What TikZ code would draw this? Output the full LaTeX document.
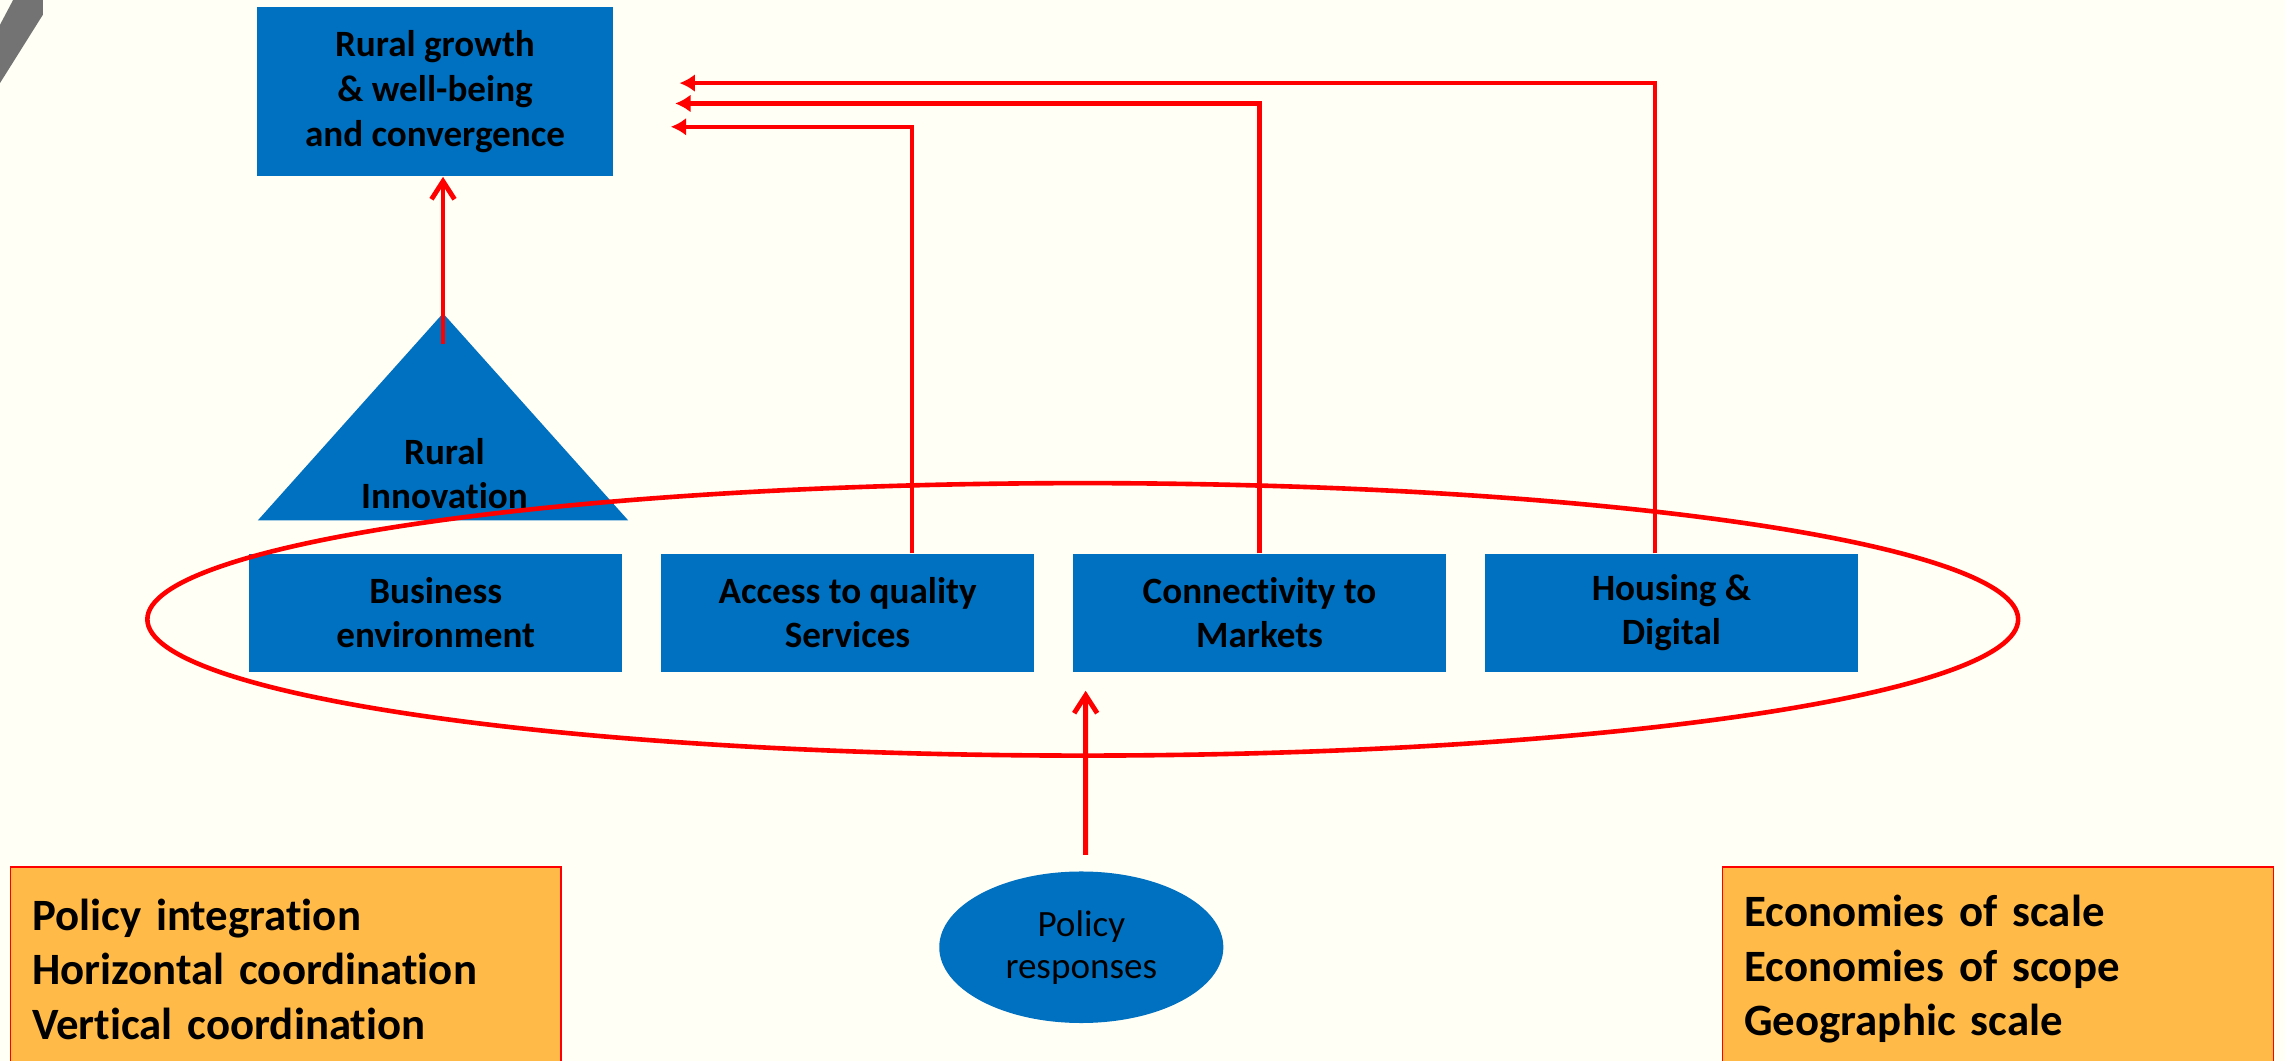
\documentclass[tikz,border=0pt]{standalone}
\usepackage{fontspec}
\setmainfont{Carlito}[Ligatures={NoCommon,NoContextual,NoRequired}, Contextuals=NoAlternate]
\usetikzlibrary{arrows.meta, positioning, shapes.geometric}
\definecolor{paper}{HTML}{FFFFF5}
\definecolor{ruralblue}{HTML}{0070C0}
\definecolor{signalred}{HTML}{FF0000}
\definecolor{amber}{HTML}{FFBA47}
\definecolor{slashgrey}{HTML}{737373}
\tikzset{
  pillar/.style={fill=ruralblue, minimum width=5.12cm, minimum height=1.62cm, inner sep=0pt, align=center, font=\fontsize{14.5}{17}\selectfont\bfseries},
  link/.style={signalred, line width=1.6pt, -{Latex[length=6pt,width=7pt]}},
  push/.style={signalred, line width=1.9pt, -{Straight Barb[length=7pt,width=9pt]}},
  lever/.style={fill=amber, draw=signalred, line width=0.5pt, minimum width=7.56cm, minimum height=2.8cm, text width=6.96cm, inner xsep=0.3cm, align=left, font=\fontsize{17.5}{21.3}\selectfont\bfseries}
}

\begin{document}
\begin{tikzpicture}[x=0.02cm, y=-0.02cm]
  % Page background
  \fill[paper] (0,0) rectangle (1568,728);
  \useasboundingbox (0,0) rectangle (1568,728);

  % Grey stroke in the corner
  \fill[slashgrey] (9,0) -- (29.5,0) -- (29.5,10) -- (0,57) -- (0,17) -- cycle;

  % Outcome box
  \node[fill=ruralblue, minimum width=4.9cm, minimum height=2.32cm, inner sep=0pt, align=center, font=\fontsize{14.5}{17.6}\selectfont\bfseries] (goal) at (298.5,63) {Rural growth\\\& well-being\\and convergence};

  % Innovation triangle
  \fill[ruralblue] (177,357) -- (304,215) -- (431,357) -- cycle;
  \node[align=center, font=\fontsize{14.5}{17}\selectfont\bfseries] (innov) at (305,325) {Rural\\Innovation};
  \coordinate (innovtip) at (304,236);

  % Row of pillars
  \node[pillar] (biz) at (299,420.5) {Business\\environment};
  \node[pillar, right=0.52cm of biz] (svc) {Access to quality\\Services};
  \node[pillar, right=0.52cm of svc] (mkt) {Connectivity to\\Markets};
  \node[pillar, right=0.52cm of mkt] (home) {Housing \&\\Digital};

  % Feedback links to the outcome
  \draw[push] (innovtip) -- (innovtip |- goal.south);
  \draw[link] ([xshift=0.88cm]svc.north) |- ([xshift=0.78cm, yshift=-0.48cm]goal.east);
  \draw[link] ([xshift=0cm]mkt.north) |- ([xshift=0.84cm, yshift=-0.16cm]goal.east);
  \draw[link] ([xshift=-0.22cm]home.north) |- ([xshift=0.9cm, yshift=0.12cm]goal.east);

  % Ring round the pillars
  \node[draw=signalred, line width=1.8pt, ellipse, minimum width=25.68cm, minimum height=3.74cm, inner sep=0pt] (ring) at (743,425) {};

  % Policy responses
  \node[ellipse, fill=ruralblue, minimum width=3.9cm, minimum height=2.08cm, inner sep=0pt, align=center, font=\fontsize{14.5}{16.5}\selectfont] (pol) at (742,650) {Policy\\responses};
  \coordinate (hub) at (745,474);
  \draw[push] ([xshift=0.06cm, yshift=0.22cm]pol.north) -- (hub);

  % Side notes
  \node[lever] (gov) at (196,665) {Policy integration\\Horizontal coordination\\Vertical coordination};
  \node[lever] (scale) at (1371,665) {Economies of scale\\Economies of scope\\Geographic scale};
\end{tikzpicture}
\end{document}
